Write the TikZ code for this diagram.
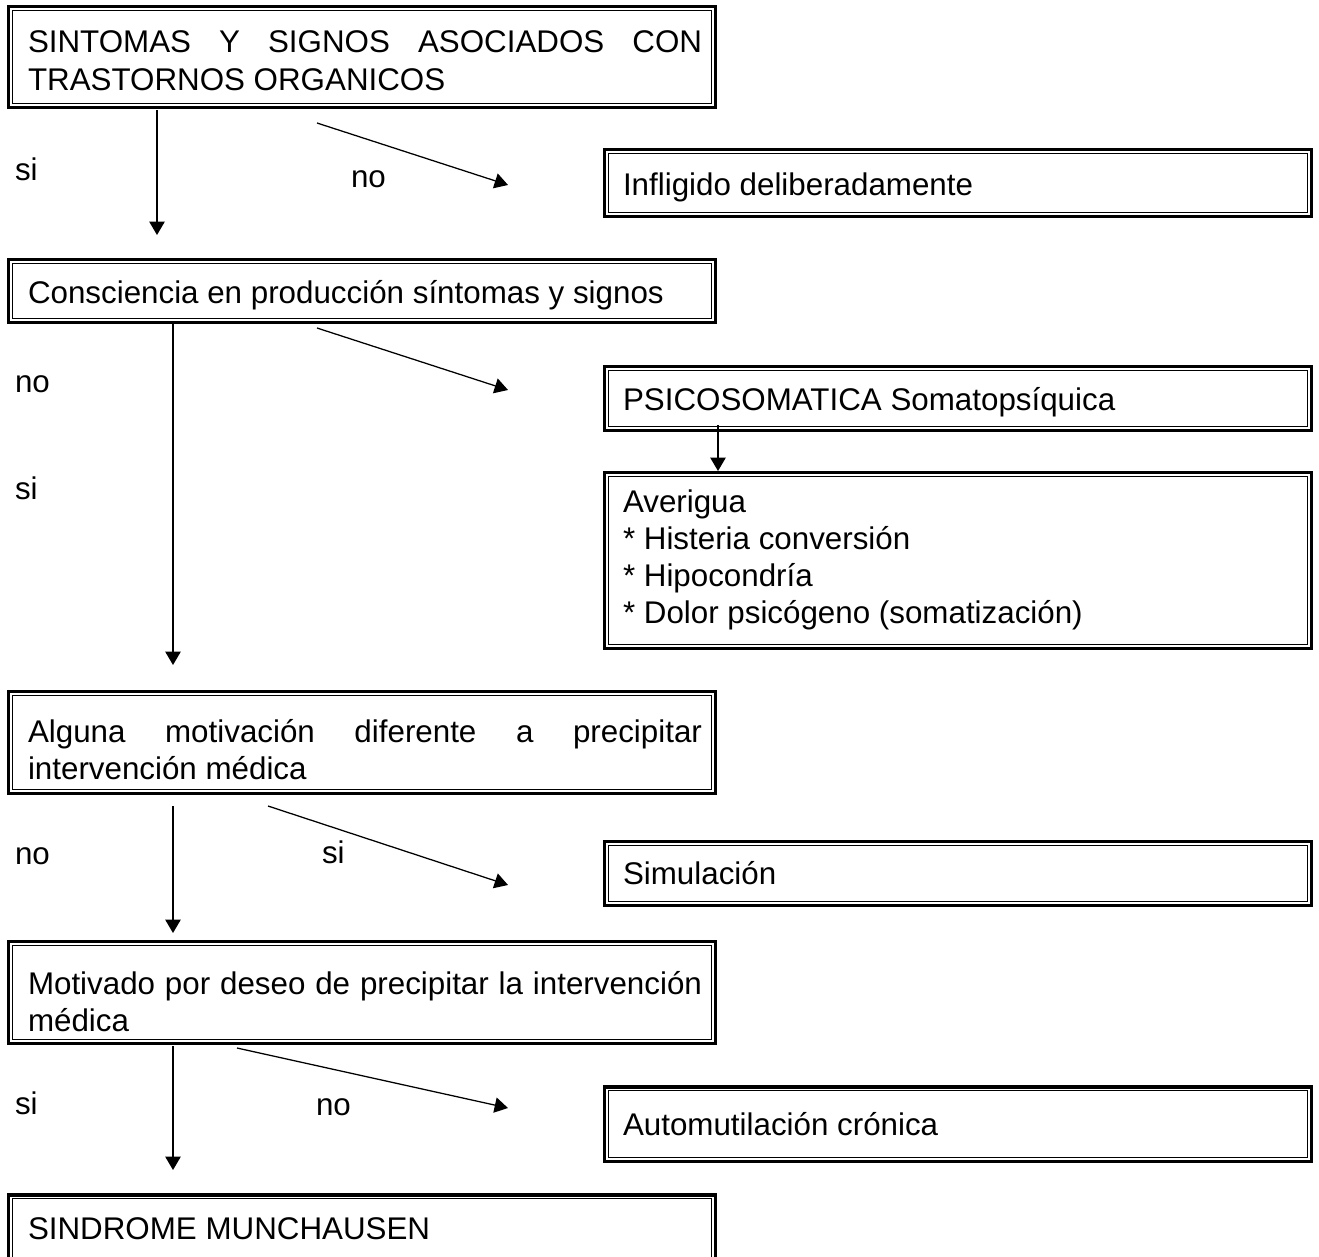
\documentclass[tikz,border=0pt]{standalone}
\usepackage{fontspec}
\setmainfont{Liberation Sans}
\usetikzlibrary{arrows.meta}
\tikzset{
  txt/.style={anchor=base west, inner sep=0pt, outer sep=0pt, font=\fontsize{23.5}{28.2}\selectfont},
  frm/.style={anchor=north west, inner sep=0pt, outer sep=0pt},
  arr/.style={line width=0.95pt, -{Triangle[length=10pt,width=11.5pt]}},
  thickline/.style={line width=2.6pt},
  thinline/.style={line width=0.9pt},
}
\begin{document}
\begin{tikzpicture}[x=0.75pt,y=-0.75pt]
\useasboundingbox (0,0) rectangle (1319,1256);
\clip (0,0) rectangle (1319,1256);

% frames (sizes in px * 0.75pt)
\node[frm, minimum width=532.5pt, minimum height=78pt]    (f1) at (7,5) {};
\node[frm, minimum width=532.5pt, minimum height=49.5pt]  (f2) at (7,258) {};
\node[frm, minimum width=532.5pt, minimum height=78.75pt] (f3) at (7,690) {};
\node[frm, minimum width=532.5pt, minimum height=78.75pt] (f4) at (7,940) {};
\node[frm, minimum width=532.5pt, minimum height=63.75pt] (f5) at (7,1193) {};
\node[frm, minimum width=532.5pt, minimum height=52.5pt]   (r1) at (603,148) {};
\node[frm, minimum width=532.5pt, minimum height=50.25pt]  (r2) at (603,365) {};
\node[frm, minimum width=532.5pt, minimum height=134.25pt] (r3) at (603,471) {};
\node[frm, minimum width=532.5pt, minimum height=50.25pt]  (r4) at (603,840) {};
\node[frm, minimum width=532.5pt, minimum height=58.5pt]   (r5) at (603,1085) {};

\foreach \n in {f1,f2,f3,f4,f5,r1,r2,r3,r4,r5} {
  \draw[thickline] ([shift={(1.75,1.75)}]\n.north west) rectangle ([shift={(-1.75,-1.75)}]\n.south east);
  \draw[thinline] ([shift={(5.8,5.8)}]\n.north west) rectangle ([shift={(-5.8,-5.8)}]\n.south east);
}

% texts in left boxes
\node[txt] (t1a) at (28,53) {\makebox[505.5pt][s]{SINTOMAS Y SIGNOS ASOCIADOS CON}};
\node[txt] (t1b) at (28,90) {TRASTORNOS ORGANICOS};
\node[txt] (t2) at (28,303) {Consciencia en producción síntomas y signos};
\node[txt] (t3a) at (28,742) {\makebox[505.5pt][s]{Alguna motivación diferente a precipitar}};
\node[txt] (t3b) at (28,779) {intervención médica};
\node[txt] (t4a) at (28,994) {\makebox[505.5pt][s]{Motivado por deseo de precipitar la intervención}};
\node[txt] (t4b) at (28,1031) {médica};
\node[txt] (t5) at (28,1239) {SINDROME MUNCHAUSEN};

% texts in right boxes
\node[txt] (u1) at (623,195) {Infligido deliberadamente};
\node[txt] (u2) at (623,410) {PSICOSOMATICA Somatopsíquica};
\node[txt] (u3a) at (623,512) {Averigua};
\node[txt] (u3b) at (623,549) {* Histeria conversión};
\node[txt] (u3c) at (623,586) {* Hipocondría};
\node[txt] (u3d) at (623,623) {* Dolor psicógeno (somatización)};
\node[txt] (u4) at (623,884) {Simulación};
\node[txt] (u5) at (623,1135) {Automutilación crónica};

% labels
\node[txt] (l1) at (15,180) {si};
\node[txt] (l2) at (351,187) {no};
\node[txt] (l3) at (15,392) {no};
\node[txt] (l4) at (15,499) {si};
\node[txt] (l5) at (15,864) {no};
\node[txt] (l6) at (322,863) {si};
\node[txt] (l7) at (15,1114) {si};
\node[txt] (l8) at (316,1115) {no};

% arrow end points
\coordinate (a1s) at (157,110);  \coordinate (a1e) at (157,235);
\coordinate (d1s) at (317,123);  \coordinate (d1e) at (508,185);
\coordinate (a2s) at (173,324);  \coordinate (a2e) at (173,665);
\coordinate (d2s) at (317,328);  \coordinate (d2e) at (508,390);
\coordinate (a3s) at (173,806);  \coordinate (a3e) at (173,933);
\coordinate (d3s) at (268,806);  \coordinate (d3e) at (508,885);
\coordinate (a4s) at (173,1046); \coordinate (a4e) at (173,1170);
\coordinate (d4s) at (237,1048); \coordinate (d4e) at (508,1108);
\coordinate (ps) at (718,425);

\draw[arr] (a1s) -- (a1e);
\draw[arr] (d1s) -- (d1e);
\draw[arr] (a2s) -- (a2e);
\draw[arr] (d2s) -- (d2e);
\draw[arr] (ps) -- (ps |- r3.north);
\draw[arr] (a3s) -- (a3e);
\draw[arr] (d3s) -- (d3e);
\draw[arr] (a4s) -- (a4e);
\draw[arr] (d4s) -- (d4e);
\end{tikzpicture}
\end{document}
